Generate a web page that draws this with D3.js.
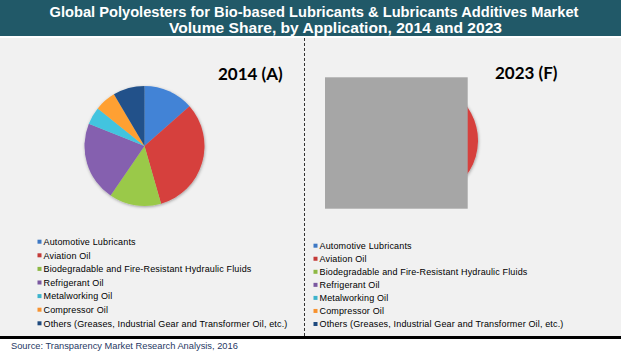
<!DOCTYPE html>
<html><head><meta charset="utf-8">
<script src="https://cdn.jsdelivr.net/npm/d3@7"></script>
<style>html,body{margin:0;padding:0;background:#fff;overflow:hidden}</style>
</head><body>
<svg id="c" width="621" height="355"></svg>
<script>
const titleLines = ["Global Polyolesters for Bio-based Lubricants & Lubricants Additives Market", "Volume Share, by Application, 2014 and 2023"];
const categories = ["Automotive Lubricants","Aviation Oil","Biodegradable and Fire-Resistant Hydraulic Fluids","Refrigerant Oil","Metalworking Oil","Compressor Oil","Others (Greases, Industrial Gear and Transformer Oil, etc.)"];
const colors = ["#3d78c4","#c43a38","#8db843","#7a58a0","#3cb3cc","#f7922f","#1f4a7e"];
const years = ["2014 (A)","2023 (F)"];
const values2014 = [13.5, 32, 14, 21.5, 4.7, 5.7, 8.5];
const values2023 = [13, 33, 14.5, 21, 4.5, 5.5, 8.5];
const source = "Source: Transparency Market Research Analysis, 2016";

const svg = d3.select("#c");
const defs = svg.append("defs");
const f = defs.append("filter").attr("id","sh").attr("x","-20%").attr("y","-20%").attr("width","140%").attr("height","140%");
f.append("feDropShadow").attr("dx",0.5).attr("dy",1).attr("stdDeviation",1.6).attr("flood-color","#000").attr("flood-opacity",0.35);

// background panels
svg.append("rect").attr("x",0).attr("y",0).attr("width",621).attr("height",36).attr("fill","#215968");
svg.append("rect").attr("x",0).attr("y",38).attr("width",621).attr("height",298).attr("fill","#f1f1f1");
svg.append("rect").attr("x",0).attr("y",336).attr("width",621).attr("height",3).attr("fill","#000");

// title
const tl = [{x:49.5,y:16.8,w:529},{x:169,y:33,w:333}];
titleLines.forEach((t,i)=>{
  svg.append("text").attr("x",tl[i].x).attr("y",tl[i].y).attr("fill","#fff")
    .attr("font-family","Liberation Sans, Arial, sans-serif").attr("font-weight","bold").attr("font-size","14.5px")
    .attr("textLength",tl[i].w).attr("lengthAdjust","spacingAndGlyphs").text(t);
});

// divider
svg.append("line").attr("x1",304.5).attr("x2",304.5).attr("y1",38).attr("y2",336)
  .attr("stroke","#333").attr("stroke-width",1).attr("stroke-dasharray","3,2");

const pie = d3.pie().sort(null).value(d=>d);
const panels = [
  {vals:values2014, cx:144.5, cy:146, r:60, tx:218, ty:79.5, lx:37.5, ly:241.7, ls:13.6},
  {vals:values2023, cx:420, cy:140.5, r:58, tx:495, ty:79, lx:313.5, ly:245.7, ls:13.05}
];
panels.forEach((p,pi)=>{
  const arc = d3.arc().innerRadius(0).outerRadius(p.r);
  colors.forEach((c,i)=>{
    const g = defs.append("linearGradient").attr("id",`g${pi}_${i}`).attr("gradientUnits","userSpaceOnUse")
      .attr("x1",p.cx).attr("y1",p.cy-p.r).attr("x2",p.cx).attr("y2",p.cy+p.r);
    g.append("stop").attr("offset","0%").attr("stop-color",d3.color(c).brighter(0.25));
    g.append("stop").attr("offset","100%").attr("stop-color",d3.color(c).darker(0.35));
  });
  const gp = svg.append("g").attr("transform",`translate(${p.cx},${p.cy})`).attr("filter","url(#sh)");
  gp.selectAll("path").data(pie(p.vals)).join("path").attr("d",arc)
    .attr("fill",(d,i)=>`url(#g${pi}_${i})`);
  svg.append("text").attr("x",p.tx).attr("y",p.ty).attr("font-family","Lato, Open Sans, sans-serif")
    .attr("font-weight","bold").attr("font-size","17px").attr("fill","#000").text(years[pi]);
  const lg = svg.append("g");
  categories.forEach((cat,i)=>{
    const y = p.ly + i*p.ls;
    lg.append("rect").attr("x",p.lx).attr("y",y-2).attr("width",4).attr("height",4).attr("fill",colors[i]);
    lg.append("text").attr("x",p.lx+6).attr("y",y+3.3).attr("font-family","Liberation Sans, Arial, sans-serif")
      .attr("font-size","9px").attr("fill","#000").attr("letter-spacing","0.15px").text(cat);
  });
});

// obscuring box on 2023 pie
svg.append("rect").attr("x",325).attr("y",77.3).attr("width",142.7).attr("height",131.4).attr("fill","#a6a6a6");

svg.append("text").attr("x",11).attr("y",349.3).attr("font-family","Liberation Sans, Arial, sans-serif")
  .attr("font-size","9.3px").attr("fill","#1f3864").text(source);
</script>
</body></html>
